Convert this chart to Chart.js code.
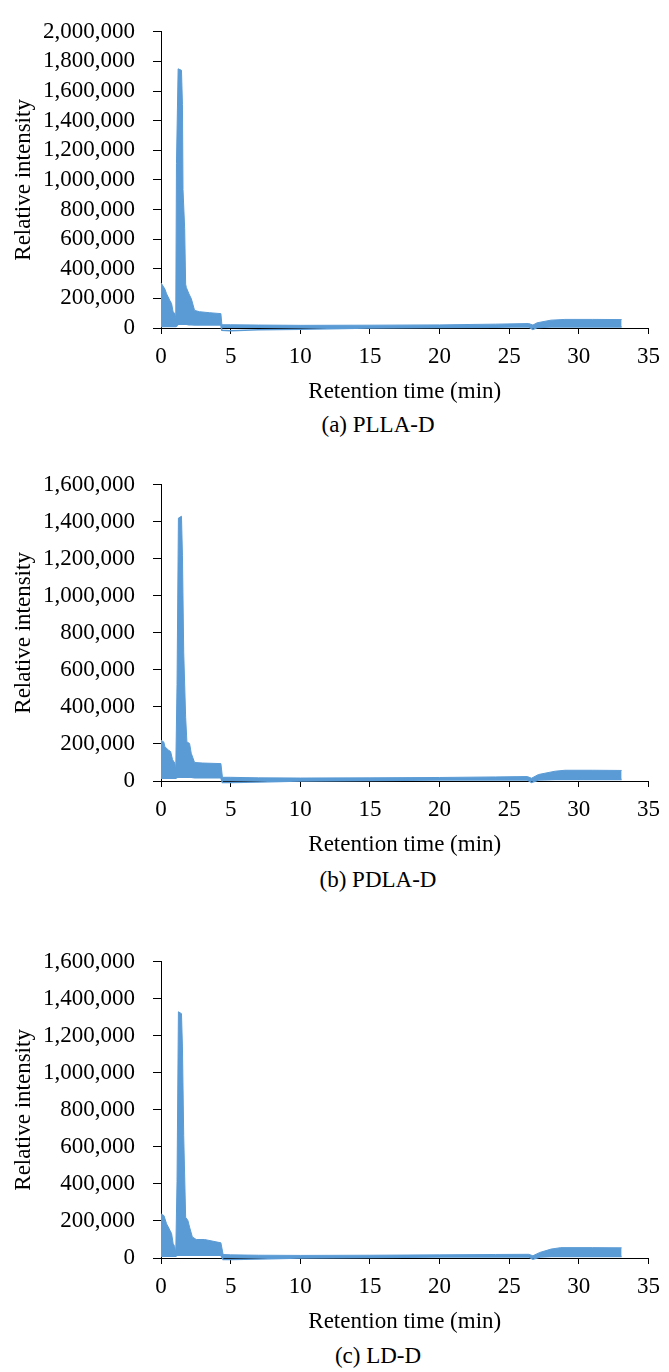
<!DOCTYPE html>
<html>
<head>
<meta charset="utf-8">
<script src="https://cdn.jsdelivr.net/npm/chart.js@4.4.1/dist/chart.umd.min.js"></script>
<style>
  body { margin: 0; background: #fff; }
  #page { position: relative; width: 669px; height: 1372px; overflow: hidden; }
  canvas { position: absolute; left: 0; }
  .caption {
    position: absolute; left: 228px; width: 300px; text-align: center;
    font-family: "Liberation Serif", serif; font-size: 23px; line-height: 28px; color: #000;
  }
</style>
</head>
<body>
<div id="page">
  <canvas id="chartA" width="669" height="410" style="top:0px"></canvas>
  <div class="caption" style="top:411px">(a) PLLA-D</div>
  <canvas id="chartB" width="669" height="410" style="top:453px"></canvas>
  <div class="caption" style="top:866px">(b) PDLA-D</div>
  <canvas id="chartC" width="669" height="410" style="top:930px"></canvas>
  <div class="caption" style="top:1342px">(c) LD-D</div>
</div>
<script>
// envelope of the noisy trace (min, intensity)
const timeA  = [0, 0.05, 0.28, 0.40, 0.64, 0.76, 0.87, 0.99, 1.06, 1.11, 1.23, 1.47, 1.54, 1.58, 1.70, 1.77, 1.82, 2.01, 2.18, 2.41, 2.76, 3.5, 4.30, 4.37, 5, 7, 10, 15, 20, 24, 26.4, 26.7, 27.0, 28.0, 29.0, 31, 33.07];
const upperA = [305000, 305000, 263000, 231000, 185000, 165000, 108000, 99000, 66000, 1110000, 1750000, 1740000, 1510000, 935000, 670000, 296000, 273000, 230000, 197000, 119000, 110000, 103000, 97000, 22000, 22000, 20000, 18000, 19000, 21000, 26000, 30000, 20000, 35000, 53000, 58000, 58000, 57000];
const lowerA = [10000, 10000, 10000, 10000, 10000, 10000, 10000, 10000, 10000, 12000, 25000, 25000, 25000, 25000, 25000, 25000, 25000, 22000, 22000, 20000, 20000, 20000, 20000, -15000, -18000, -12000, -8000, 0, 3000, 5000, 8000, -10000, 3000, 6000, 6000, 6000, 6000];

const timeB  = [0, 0.05, 0.20, 0.28, 0.52, 0.69, 0.83, 0.99, 1.06, 1.15, 1.25, 1.47, 1.54, 1.63, 1.77, 1.86, 2.05, 2.17, 2.41, 3.0, 4.30, 4.41, 5, 7, 10, 15, 20, 24, 26.3, 26.6, 27.1, 28.3, 29.0, 31, 33.07];
const upperB = [220000, 220000, 211000, 185000, 168000, 159000, 115000, 97000, 62000, 520000, 1420000, 1430000, 1220000, 696000, 344000, 211000, 203000, 150000, 100000, 97000, 94000, 20000, 20000, 17000, 16000, 17000, 19000, 22000, 24000, 15000, 35000, 53000, 58000, 58000, 57000];
const lowerB = [15000, 15000, 15000, 15000, 15000, 15000, 15000, 15000, 15000, 20000, 20000, 20000, 20000, 20000, 20000, 20000, 20000, 20000, 18000, 18000, 18000, -8000, -8000, -5000, 0, 3000, 5000, 6000, 6000, -8000, 5000, 8000, 8000, 8000, 8000];

const timeC  = [0, 0.05, 0.21, 0.40, 0.64, 0.76, 0.87, 0.99, 1.06, 1.15, 1.25, 1.47, 1.54, 1.63, 1.77, 1.93, 2.05, 2.25, 2.53, 3.12, 4.30, 4.46, 5, 7, 10, 15, 20, 24, 26.4, 26.7, 27.2, 28.0, 28.7, 31, 33.07];
const upperC = [238000, 238000, 229000, 185000, 150000, 132000, 79000, 61000, 26000, 414000, 1330000, 1320000, 1140000, 661000, 220000, 203000, 167000, 114000, 100000, 100000, 82000, 19000, 17000, 15000, 14000, 15000, 17000, 19000, 20000, 12000, 30000, 48000, 56000, 56000, 55000];
const lowerC = [9000, 9000, 9000, 9000, 9000, 9000, 9000, 9000, 9000, 15000, 15000, 15000, 15000, 15000, 15000, 15000, 15000, 15000, 15000, 15000, 15000, -8000, -8000, -5000, 0, 3000, 5000, 6000, 6000, -6000, 5000, 8000, 8000, 8000, 8000];

const yMaxA = 2000000;
const yMaxB = 1600000;
const yMaxC = 1600000;

const xTitle = 'Retention time (min)';
const yTitle = 'Relative intensity';

const blue = '#5B9BD5';
const serif = '"Liberation Serif", "Times New Roman", serif';

function toPoints(time, vals) {
  return time.map((t, i) => ({ x: t, y: vals[i] }));
}

function makeChart(id, time, upper, lower, yMax) {
  const ctx = document.getElementById(id).getContext('2d');
  return new Chart(ctx, {
    type: 'line',
    data: {
      datasets: [
        {
          data: toPoints(time, upper),
          borderColor: blue,
          backgroundColor: blue,
          borderWidth: 1,
          pointRadius: 0,
          tension: 0,
          fill: '+1',
          clip: false
        },
        {
          data: toPoints(time, lower),
          borderColor: blue,
          borderWidth: 1.5,
          pointRadius: 0,
          tension: 0,
          fill: false,
          clip: false
        }
      ]
    },
    options: {
      responsive: false,
      animation: false,
      layout: { padding: { top: 26, right: 14, left: 0, bottom: 0 } },
      plugins: { legend: { display: false }, tooltip: { enabled: false } },
      scales: {
        x: {
          type: 'linear',
          min: 0,
          max: 35,
          afterFit: s => { s.height = 82; },
          ticks: { stepSize: 5, color: '#000', padding: 9, maxRotation: 0, autoSkip: false, font: { family: serif, size: 23 } },
          grid: { drawOnChartArea: false, drawTicks: true, tickLength: 6, color: '#000' },
          border: { display: true, color: '#000', width: 1 },
          title: { display: true, text: xTitle, color: '#000', padding: { top: 0, bottom: 4 }, font: { family: serif, size: 23 } }
        },
        y: {
          min: 0,
          max: yMax,
          afterFit: s => { s.width = 161; },
          ticks: {
            stepSize: 200000,
            autoSkip: false,
            color: '#000',
            padding: 18,
            font: { family: serif, size: 23 },
            callback: v => v.toLocaleString('en-US')
          },
          grid: { drawOnChartArea: false, drawTicks: true, tickLength: 8, color: '#000' },
          border: { display: true, color: '#000', width: 1 },
          title: { display: true, text: yTitle, color: '#000', padding: { top: 10, bottom: 0 }, font: { family: serif, size: 23 } }
        }
      }
    }
  });
}

makeChart('chartA', timeA, upperA, lowerA, yMaxA);
makeChart('chartB', timeB, upperB, lowerB, yMaxB);
makeChart('chartC', timeC, upperC, lowerC, yMaxC);
</script>
</body>
</html>
